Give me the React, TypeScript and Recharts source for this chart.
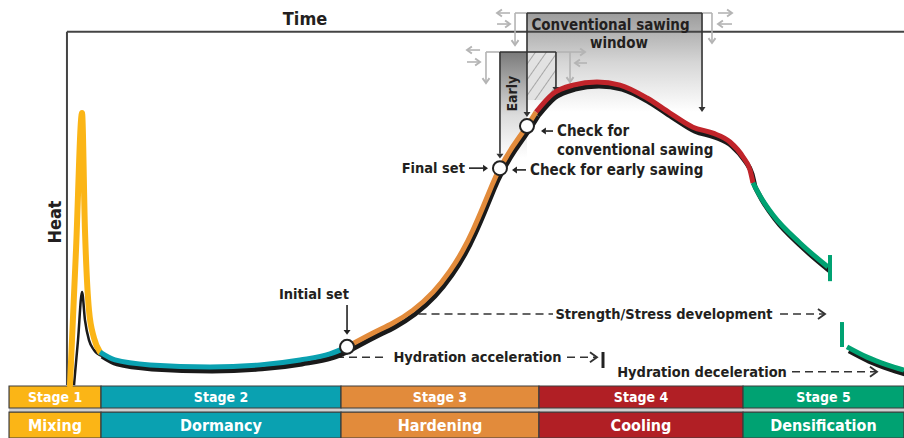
import React from 'react';
import { LineChart, Line, XAxis, YAxis, ReferenceArea, ReferenceLine, ReferenceDot } from 'recharts';

// time runs 0..100 along the top frame, heat 0..100 up the left frame
// curve pieces as [time, heat]
const mixingCurve = [[0.36, 0], [1.08, 38.2], [1.8, 77.0], [2.15, 43.9], [2.63, 21.2], [3.23, 13.3], [3.95, 9.3]];
const mixingShadow = [[0.84, 0], [1.32, 12.7], [1.8, 26.3], [2.15, 18.4], [2.63, 12.7], [3.23, 9.9], [4.19, 8.2]];
const dormancyCurve = [[3.95, 9.3], [5.74, 7.1], [9.92, 5.7], [17.09, 5.1], [23.06, 5.7], [27.84, 7.1], [31.42, 8.8], [33.46, 10.8]];
const hardeningCurve = [
  [33.46, 10.8], [36.56, 14.7], [38.95, 17.55], [41.34, 21.2], [43.73, 26.3], [45.76, 32.3], [47.31, 38.2],
  [48.51, 43.9], [49.7, 50.4], [50.78, 56.6], [51.73, 61.4], [53.29, 67.6], [54.96, 73.3], [56.04, 77.3],
];
const coolingCurve = [
  [56.04, 77.3], [58.07, 82.5], [60.46, 84.9], [63.32, 85.8], [66.07, 84.9], [69.3, 81.25], [72.04, 77.0],
  [74.79, 73.0], [77.18, 71.3], [79.21, 68.8], [80.77, 64.55], [81.6, 60.9], [81.96, 57.2],
];
const densificationCurve = [[81.96, 57.2], [82.8, 53.5], [84.35, 48.1], [87.57, 40.2], [90.92, 33.4]];
const densificationTail = [[93.19, 10.8], [95.58, 7.9], [97.97, 5.7], [100, 4.2]];

// stages along the bottom bands
const stageNames = ['Stage 1', 'Stage 2', 'Stage 3', 'Stage 4', 'Stage 5'];
const stageLabels = ['Mixing', 'Dormancy', 'Hardening', 'Cooling', 'Densification'];
const stageBounds = [-6.92, 4.07, 32.74, 56.39, 80.77, 100];
const stageColors = ['#fbb516', '#0aa1b1', '#e28b3b', '#b11f25', '#00a272'];

// marked points on the curve
const initialSet = [33.46, 10.8];
const finalSet = [51.73, 61.4];
const conventionalCheck = [54.96, 73.3];

// sawing windows [start, end] in time
const conventionalWindow = [54.96, 75.87];
const earlyWindow = [51.73, 58.42];

const FONT = "'Liberation Sans Narrow', 'DejaVu Sans Condensed', 'Roboto Condensed', 'Liberation Sans', Arial, sans-serif";
const INK = '#231f20';
const GREY = '#b4b4b4';

const toPts = (arr: number[][]) => arr.map(([t, h]) => ({ t, h }));

const textShape = (label: string, size: number, anchor: string, rotate = 0, color = INK) => (p: any) => (
  <text
    x={p.cx}
    y={p.cy}
    textAnchor={anchor}
    dominantBaseline="central"
    fontFamily={FONT}
    fontWeight={700}
    fontSize={size}
    fill={color}
    transform={rotate ? `rotate(${rotate} ${p.cx} ${p.cy})` : undefined}
  >
    {label}
  </text>
);

const arrowShape = (color: string, head: 'solid' | 'open' | 'none', width = 1.5, dash?: string, size = 5) => (p: any) => {
  const { x1, y1, x2, y2 } = p;
  const ang = Math.atan2(y2 - y1, x2 - x1);
  const bx = x2 - Math.cos(ang) * size * 1.4;
  const by = y2 - Math.sin(ang) * size * 1.4;
  const nx = -Math.sin(ang) * size;
  const ny = Math.cos(ang) * size;
  const endX = head === 'solid' ? bx : x2;
  const endY = head === 'solid' ? by : y2;
  return (
    <g>
      <line x1={x1} y1={y1} x2={endX} y2={endY} stroke={color} strokeWidth={width} strokeDasharray={dash} />
      {head === 'solid' && <polygon points={`${x2},${y2} ${bx + nx},${by + ny} ${bx - nx},${by - ny}`} fill={color} />}
      {head === 'open' && (
        <polyline
          points={`${bx + nx},${by + ny} ${x2},${y2} ${bx - nx},${by - ny}`}
          fill="none"
          stroke={color}
          strokeWidth={width + 0.3}
        />
      )}
    </g>
  );
};

const seg = (x1: number, y1: number, x2: number, y2: number) => [{ x: x1, y: y1 }, { x: x2, y: y2 }];

const App: React.FC = () => {
  const texts: [number, number, string, number, string, number?][] = [
    [28.44, 103.9, 'Time', 18, 'middle'],
    [-1.43, 46.15, 'Heat', 18, 'middle', -90],
    [64.94, 101.9, 'Conventional sawing', 15, 'middle'],
    [65.95, 96.7, 'window', 15, 'middle'],
    [53.11, 82.5, 'Early', 14, 'middle', -90],
    [58.55, 71.9, 'Check for', 15, 'start'],
    [58.55, 66.5, 'conventional sawing', 15, 'start'],
    [55.32, 60.9, 'Check for early sawing', 15, 'start'],
    [47.55, 61.4, 'Final set', 14.5, 'end'],
    [29.51, 25.8, 'Initial set', 14.5, 'middle'],
    [71.33, 20.1, 'Strength/Stress development', 14.5, 'middle'],
    [49.05, 7.84, 'Hydration acceleration', 14.5, 'middle'],
    [75.87, 3.77, 'Hydration deceleration', 14.5, 'middle'],
  ];

  // light grey "window can move" marks around the sawing boxes
  const greyLines: [number, number, number, number][] = [
    [53.53, 105.32, 54.96, 105.32],
    [50.06, 94.28, 51.73, 94.28],
    [75.87, 105.32, 77.06, 105.32],
  ];
  const greyArrows: [number, number, number, number][] = [
    [52.93, 105.32, 51.38, 105.32],
    [51.38, 102.2, 52.93, 102.2],
    [53.53, 105.32, 53.53, 96.26],
    [49.35, 94.84, 47.79, 94.84],
    [47.79, 91.45, 49.35, 91.45],
    [50.06, 94.28, 50.06, 85.5],
    [58.42, 94.28, 61.89, 94.28],
    [60.1, 94.28, 60.1, 85.78],
    [62.13, 91.16, 60.7, 91.16],
    [77.06, 105.32, 77.06, 96.83],
    [77.78, 105.32, 79.45, 105.32],
    [79.45, 102.2, 77.78, 102.2],
  ];

  const pieces: [number[][], string, 'monotone' | 'natural'][] = [
    [dormancyCurve, stageColors[1], 'monotone'],
    [hardeningCurve, stageColors[2], 'natural'],
    [coolingCurve, '#c0242a', 'monotone'],
    [densificationCurve, stageColors[4], 'monotone'],
    [densificationTail, stageColors[4], 'monotone'],
  ];

  return (
    <div style={{ width: 904, height: 438 }}>
      <style>{`body{margin:0} .heat-shadow{transform:translate(2px,4px)}`}</style>
      <LineChart width={904} height={438} margin={{ top: 0, right: 0, bottom: 0, left: 0 }}>
        <defs>
          <linearGradient id="convFill" x1="0" y1="0" x2="0" y2="1">
            <stop offset="0" stopColor="#9c9c9c" />
            <stop offset="0.5" stopColor="#d6d6d6" />
            <stop offset="1" stopColor="#ffffff" />
          </linearGradient>
          <linearGradient id="earlyFill" x1="0" y1="0" x2="0" y2="1">
            <stop offset="0" stopColor="#7a7a7a" />
            <stop offset="0.6" stopColor="#dcdcdc" />
            <stop offset="1" stopColor="#ffffff" />
          </linearGradient>
          <pattern id="hatch" width="9" height="9" patternUnits="userSpaceOnUse" patternTransform="rotate(35)">
            <rect width="9" height="9" fill="#e2e2e2" />
            <line x1="0" y1="0" x2="0" y2="9" stroke="#6a6a6a" strokeWidth="1" />
          </pattern>
        </defs>
        <XAxis type="number" dataKey="t" domain={[-8, 100]} hide allowDataOverflow />
        <YAxis type="number" dataKey="h" domain={[-15, 109]} hide allowDataOverflow />

        {/* stage bands */}
        <ReferenceArea x1={stageBounds[0]} x2={stageBounds[5]} y1={-6.51} y2={-7.65} fill="#cfcfcf" fillOpacity={1} stroke="none" />
        {stageNames.map((name, i) => (
          <ReferenceArea
            key={name}
            x1={stageBounds[i]}
            x2={stageBounds[i + 1]}
            y1={-0.28}
            y2={-6.51}
            fill={stageColors[i]}
            fillOpacity={1}
            stroke="#3c3c3c"
            strokeWidth={1.2}
            label={{ value: name, position: 'center', fill: '#fff', fontSize: 14, fontWeight: 700, fontFamily: FONT }}
          />
        ))}
        {stageLabels.map((name, i) => (
          <ReferenceArea
            key={name}
            x1={stageBounds[i]}
            x2={stageBounds[i + 1]}
            y1={-7.65}
            y2={-15}
            fill={stageColors[i]}
            fillOpacity={1}
            stroke="#3c3c3c"
            strokeWidth={1.2}
            label={{ value: name, position: 'center', fill: '#fff', fontSize: 16, fontWeight: 700, fontFamily: FONT }}
          />
        ))}

        {/* frame */}
        <ReferenceLine segment={seg(0, 0, 0, 100)} stroke="#444" strokeWidth={2} />
        <ReferenceLine segment={seg(0, 100, 100, 100)} stroke="#444" strokeWidth={2} />

        {/* sawing windows */}
        <ReferenceArea x1={conventionalWindow[0]} x2={conventionalWindow[1]} y1={105.32} y2={77.3} fill="url(#convFill)" fillOpacity={1} stroke="none" />
        <ReferenceArea x1={earlyWindow[0]} x2={conventionalWindow[0]} y1={94.28} y2={64.3} fill="url(#earlyFill)" fillOpacity={1} stroke="none" />
        <ReferenceArea x1={conventionalWindow[0]} x2={earlyWindow[1]} y1={94.28} y2={80.7} fill="url(#hatch)" fillOpacity={1} stroke="none" />
        {greyLines.map(([a, b, c, d], i) => (
          <ReferenceLine key={`gl${i}`} segment={seg(a, b, c, d)} stroke={GREY} strokeWidth={1.6} />
        ))}
        {greyArrows.map(([a, b, c, d], i) => (
          <ReferenceLine key={`g${i}`} segment={seg(a, b, c, d)} shape={arrowShape(GREY, 'open', 1.6, undefined, 3.5)} />
        ))}
        <ReferenceLine segment={seg(conventionalWindow[0], 105.32, conventionalWindow[1], 105.32)} stroke="#333" strokeWidth={1.6} />
        <ReferenceLine segment={seg(earlyWindow[0], 94.28, earlyWindow[1], 94.28)} stroke="#333" strokeWidth={1.6} />
        <ReferenceLine segment={seg(conventionalWindow[0], 105.32, conventionalWindow[0], 75.9)} shape={arrowShape('#333', 'solid', 1.6, undefined, 3.5)} />
        <ReferenceLine segment={seg(conventionalWindow[1], 105.32, conventionalWindow[1], 77.3)} shape={arrowShape('#333', 'solid', 1.6, undefined, 3.5)} />
        <ReferenceLine segment={seg(earlyWindow[0], 94.28, earlyWindow[0], 64.1)} shape={arrowShape('#333', 'solid', 1.6, undefined, 3.5)} />
        <ReferenceLine segment={seg(earlyWindow[1], 94.28, earlyWindow[1], 82.95)} shape={arrowShape('#333', 'solid', 1.6, undefined, 3.5)} />

        {/* development arrows */}
        <ReferenceLine segment={seg(42.0, 20.1, 58.07, 20.1)} shape={arrowShape('#333', 'none', 1.6, '8 5')} />
        <ReferenceLine segment={seg(85.19, 20.1, 90.56, 20.1)} shape={arrowShape('#333', 'open', 1.6, '8 5')} />
        <ReferenceLine segment={seg(30.59, 7.84, 38.35, 7.84)} shape={arrowShape('#333', 'none', 1.6, '8 5')} />
        <ReferenceLine segment={seg(59.74, 7.84, 63.32, 7.84)} shape={arrowShape('#333', 'open', 1.6, '8 5')} />
        <ReferenceLine segment={seg(64.04, 9.34, 64.04, 4.81)} stroke="#222" strokeWidth={3} />
        <ReferenceLine segment={seg(86.62, 3.77, 96.77, 3.77)} shape={arrowShape('#333', 'open', 1.6, '8 5')} />

        {/* heat curve */}
        <Line data={toPts(mixingShadow)} dataKey="h" type="monotone" stroke="#1a1a1a" strokeWidth={2.5} dot={false} activeDot={false} isAnimationActive={false} />
        {pieces.map(([p, , kind], i) => (
          <Line key={`s${i}`} className="heat-shadow" data={toPts(p)} dataKey="h" type={kind} stroke="#1a1a1a" strokeWidth={5} dot={false} activeDot={false} isAnimationActive={false} />
        ))}
        <Line data={toPts(mixingCurve)} dataKey="h" type="monotone" stroke={stageColors[0]} strokeWidth={6} strokeLinecap="round" dot={false} activeDot={false} isAnimationActive={false} />
        {pieces.map(([p, c, kind], i) => (
          <Line key={`c${i}`} data={toPts(p)} dataKey="h" type={kind} stroke={c} strokeWidth={5} dot={false} activeDot={false} isAnimationActive={false} />
        ))}
        <ReferenceLine segment={seg(91.16, 36.8, 91.16, 29.4)} stroke={stageColors[4]} strokeWidth={4} />
        <ReferenceLine segment={seg(92.59, 17.83, 92.59, 10.76)} stroke={stageColors[4]} strokeWidth={4} />

        {/* set points */}
        {[initialSet, finalSet, conventionalCheck].map(([t, h], i) => (
          <ReferenceDot key={`p${i}`} x={t} y={h} r={7} fill="#fff" stroke="#222" strokeWidth={2} />
        ))}
        <ReferenceLine segment={seg(33.46, 22.65, 33.46, 14.2)} shape={arrowShape('#222', 'solid', 1.6, undefined, 3.5)} />
        <ReferenceLine segment={seg(48.03, 61.4, 50.3, 61.4)} shape={arrowShape('#222', 'solid', 1.6, undefined, 3.5)} />
        <ReferenceLine segment={seg(54.84, 60.9, 53.17, 60.9)} shape={arrowShape('#222', 'solid', 1.6, undefined, 3.5)} />
        <ReferenceLine segment={seg(58.07, 71.9, 56.63, 71.9)} shape={arrowShape('#222', 'solid', 1.6, undefined, 3.5)} />

        {/* labels */}
        {texts.map(([t, h, label, size, anchor, rot], i) => (
          <ReferenceDot key={`t${i}`} x={t} y={h} r={1} shape={textShape(label, size, anchor, rot || 0)} />
        ))}
      </LineChart>
    </div>
  );
};

export default App;
